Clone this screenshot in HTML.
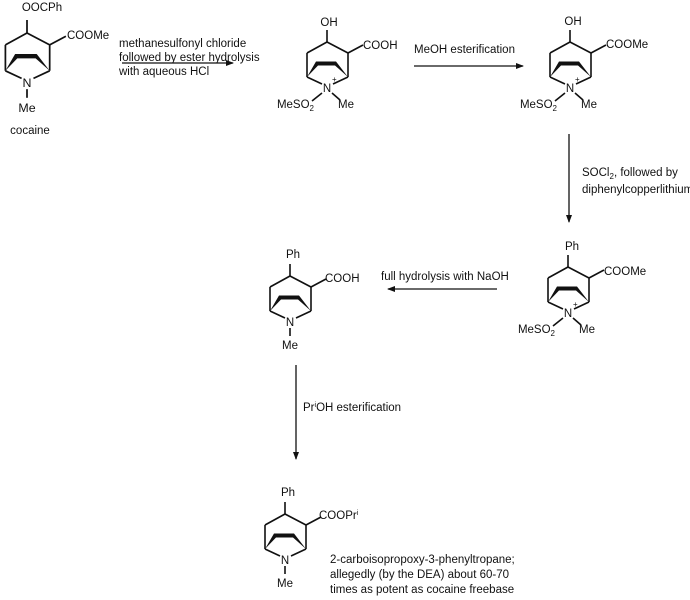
<!DOCTYPE html>
<html><head><meta charset="utf-8"><style>
html,body{margin:0;padding:0;background:#fff}
svg{display:block}
text{font-family:"Liberation Sans",Arial,sans-serif;font-size:11.5px;fill:#111}
.b{stroke:#111;stroke-width:1.6;fill:none;stroke-linejoin:round}
</style></head><body>
<svg width="690" height="600" viewBox="0 0 690 600" xmlns="http://www.w3.org/2000/svg">
<defs>
<marker id="ah" markerWidth="8" markerHeight="8" refX="7" refY="4" orient="auto" markerUnits="userSpaceOnUse">
<path d="M0,1 L8,4 L0,7 Z" fill="#111"/></marker>
<g id="sk">
<path class="b" d="M-20,11 L0,0 L21,11 L21,35 M-20,11 L-20,35 M-20,35 L-5,42 M21,35 L6,42"/>
<path d="M-20,35 L-11,19.5 L-9,23.5 Z" fill="#111"/>
<path d="M21,35 L9,19.5 L8,23.5 Z" fill="#111"/>
<path d="M-11,21.5 L9,21.5" stroke="#111" stroke-width="4"/>
<text x="0" y="50" text-anchor="middle">N</text>
<path class="b" d="M0,0 L0,-12 M21,11 L36,3"/>
</g>
<g id="nme">
<path class="b" d="M0,52 L0,60"/>
<text x="0" y="73" text-anchor="middle">Me</text>
</g>
<g id="nso">
<path class="b" d="M-5,51 L-15,59 M5,51 L13,58"/>
<text x="5" y="40" style="font-size:8px">+</text>
<text x="-13" y="66" text-anchor="end">MeSO<tspan style="font-size:8px" dy="3">2</tspan></text>
<text x="11" y="66">Me</text>
</g>
</defs>

<g transform="translate(27,33) scale(1.08)">
<use href="#sk"/><use href="#nme"/>
</g>
<text x="42" y="11" text-anchor="middle">OOCPh</text>
<text x="67" y="39">COOMe</text>
<text x="30" y="134" text-anchor="middle">cocaine</text>

<text x="119" y="47">methanesulfonyl chloride</text>
<text x="119" y="61">followed by ester hydrolysis</text>
<text x="119" y="75">with aqueous HCl</text>
<line x1="122" y1="63" x2="233" y2="63" stroke="#111" stroke-width="1.3" marker-end="url(#ah)"/>

<g transform="translate(327,42)"><use href="#sk"/><use href="#nso"/></g>
<text x="329" y="26" text-anchor="middle">OH</text>
<text x="363" y="49">COOH</text>

<text x="414" y="53">MeOH esterification</text>
<line x1="414" y1="66" x2="523" y2="66" stroke="#111" stroke-width="1.3" marker-end="url(#ah)"/>

<g transform="translate(570,42)"><use href="#sk"/><use href="#nso"/></g>
<text x="573" y="25" text-anchor="middle">OH</text>
<text x="606" y="48">COOMe</text>

<line x1="569" y1="134" x2="569" y2="222" stroke="#111" stroke-width="1.3" marker-end="url(#ah)"/>
<text x="582" y="176">SOCl<tspan style="font-size:8px" dy="3">2</tspan><tspan dy="-3">, followed by</tspan></text>
<text x="582" y="193">diphenylcopperlithium</text>

<g transform="translate(568,267)"><use href="#sk"/><use href="#nso"/></g>
<text x="572" y="250" text-anchor="middle">Ph</text>
<text x="604" y="275">COOMe</text>

<text x="381" y="280">full hydrolysis with NaOH</text>
<line x1="497" y1="289" x2="388" y2="289" stroke="#111" stroke-width="1.3" marker-end="url(#ah)"/>

<g transform="translate(290,276)"><use href="#sk"/><use href="#nme"/></g>
<text x="293" y="258" text-anchor="middle">Ph</text>
<text x="325" y="282">COOH</text>

<line x1="296" y1="365" x2="296" y2="459" stroke="#111" stroke-width="1.3" marker-end="url(#ah)"/>
<text x="303" y="411">Pr<tspan style="font-size:7px" dy="-4">i</tspan><tspan dy="4">OH esterification</tspan></text>

<g transform="translate(285,514)"><use href="#sk"/><use href="#nme"/></g>
<text x="288" y="496" text-anchor="middle">Ph</text>
<text x="319" y="519">COOPr<tspan style="font-size:7px" dy="-4">i</tspan></text>
<text x="330" y="563">2-carboisopropoxy-3-phenyltropane;</text>
<text x="330" y="578">allegedly (by the DEA) about 60-70</text>
<text x="330" y="593">times as potent as cocaine freebase</text>
</svg>
</body></html>
